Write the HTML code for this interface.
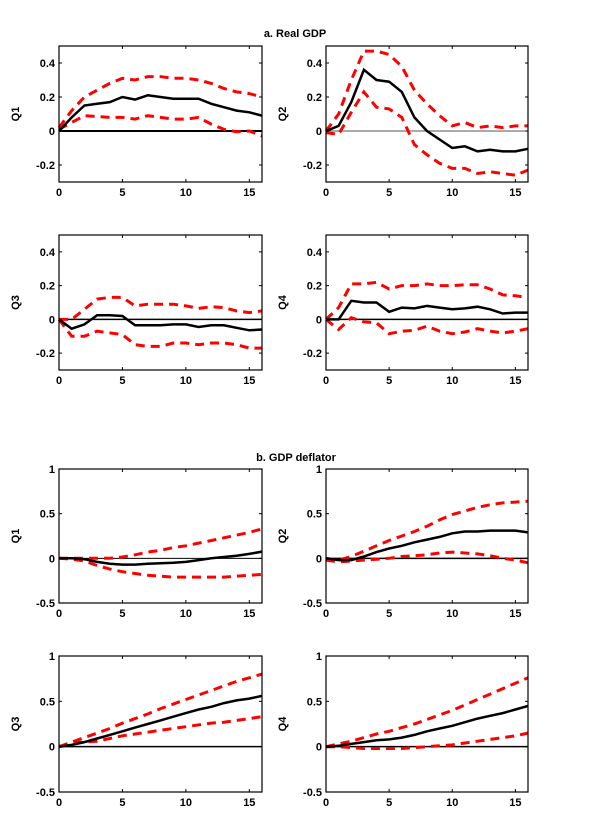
<!DOCTYPE html>
<html><head><meta charset="utf-8">
<style>
html,body{margin:0;padding:0;background:#fff;}
svg text{font-family:"Liberation Sans",Arial,sans-serif;font-weight:bold;font-size:11px;fill:#000;}
</style></head>
<body>
<svg id="chart" width="600" height="834" viewBox="0 0 600 834" xmlns="http://www.w3.org/2000/svg">
<text x="295" y="37" text-anchor="middle">a. Real GDP</text>
<text x="296" y="461" text-anchor="middle">b. GDP deflator</text>
</svg>
<script>
const horizons = [0,1,2,3,4,5,6,7,8,9,10,11,12,13,14,15,16];
const xTicks = [0,5,10,15];
const yTicksA = [0.4,0.2,0,-0.2];
const yTickLabelsA = ["0.4","0.2","0","-0.2"];
const yTicksB = [1,0.5,0,-0.5];
const yTickLabelsB = ["1","0.5","0","-0.5"];
const panelLabels = ["Q1","Q2","Q3","Q4","Q1","Q2","Q3","Q4"];

const gdpQ1Median = [0,0.08,0.15,0.16,0.17,0.20,0.185,0.21,0.20,0.19,0.19,0.19,0.16,0.14,0.12,0.11,0.09];
const gdpQ1Upper  = [0.02,0.12,0.20,0.24,0.28,0.31,0.30,0.32,0.32,0.31,0.31,0.30,0.28,0.25,0.23,0.22,0.20];
const gdpQ1Lower  = [0.01,0.05,0.09,0.085,0.08,0.08,0.07,0.09,0.08,0.07,0.07,0.08,0.04,0.01,-0.005,0,-0.03];
const gdpQ2Median = [0,0.03,0.17,0.36,0.30,0.29,0.23,0.08,0,-0.05,-0.10,-0.09,-0.12,-0.11,-0.12,-0.12,-0.105];
const gdpQ2Upper  = [0,0.10,0.30,0.47,0.47,0.45,0.38,0.24,0.16,0.09,0.03,0.05,0.02,0.03,0.02,0.03,0.03];
const gdpQ2Lower  = [-0.01,-0.02,0.11,0.23,0.14,0.13,0.08,-0.08,-0.14,-0.19,-0.22,-0.22,-0.25,-0.24,-0.25,-0.26,-0.23];
const gdpQ3Median = [0,-0.055,-0.03,0.025,0.025,0.02,-0.035,-0.035,-0.035,-0.03,-0.03,-0.045,-0.035,-0.035,-0.05,-0.065,-0.06];
const gdpQ3Upper  = [0,0,0.06,0.12,0.13,0.13,0.08,0.09,0.09,0.09,0.08,0.065,0.075,0.07,0.05,0.04,0.05];
const gdpQ3Lower  = [0,-0.10,-0.10,-0.07,-0.08,-0.09,-0.15,-0.16,-0.16,-0.14,-0.14,-0.15,-0.14,-0.14,-0.15,-0.17,-0.17];
const gdpQ4Median = [0,0,0.11,0.10,0.10,0.045,0.07,0.065,0.08,0.07,0.06,0.065,0.075,0.06,0.035,0.04,0.04];
const gdpQ4Upper  = [0,0.07,0.21,0.21,0.22,0.18,0.20,0.20,0.21,0.20,0.20,0.205,0.205,0.18,0.145,0.14,0.13];
const gdpQ4Lower  = [0,-0.06,0.01,-0.015,-0.02,-0.085,-0.07,-0.065,-0.04,-0.07,-0.085,-0.075,-0.055,-0.07,-0.08,-0.07,-0.055];

const defQ1Median = [0,0,-0.01,-0.04,-0.06,-0.07,-0.07,-0.06,-0.055,-0.05,-0.04,-0.02,0,0.015,0.03,0.05,0.075];
const defQ1Upper  = [0,0,0,0,0,0.015,0.04,0.07,0.09,0.12,0.14,0.17,0.20,0.23,0.26,0.29,0.33];
const defQ1Lower  = [0,-0.01,-0.03,-0.08,-0.12,-0.15,-0.17,-0.19,-0.20,-0.21,-0.21,-0.21,-0.21,-0.21,-0.20,-0.19,-0.18];
const defQ2Median = [0,-0.02,-0.02,0.02,0.07,0.11,0.14,0.18,0.21,0.24,0.28,0.30,0.30,0.31,0.31,0.31,0.29];
const defQ2Upper  = [0,-0.02,0.02,0.08,0.14,0.20,0.25,0.30,0.36,0.43,0.49,0.53,0.57,0.60,0.62,0.63,0.64];
const defQ2Lower  = [-0.02,-0.04,-0.03,-0.02,-0.01,0,0.02,0.03,0.04,0.06,0.07,0.06,0.05,0.03,0,-0.02,-0.05];
const defQ3Median = [0,0.02,0.05,0.09,0.13,0.17,0.21,0.25,0.29,0.33,0.37,0.41,0.44,0.48,0.51,0.53,0.56];
const defQ3Upper  = [0,0.05,0.10,0.15,0.20,0.26,0.31,0.36,0.42,0.47,0.52,0.57,0.62,0.67,0.72,0.76,0.80];
const defQ3Lower  = [0,0.04,0.05,0.06,0.09,0.12,0.14,0.16,0.18,0.20,0.22,0.24,0.26,0.27,0.29,0.31,0.33];
const defQ4Median = [0,0.01,0.03,0.05,0.07,0.08,0.10,0.13,0.17,0.20,0.23,0.27,0.31,0.34,0.37,0.41,0.45];
const defQ4Upper  = [0,0.03,0.06,0.10,0.14,0.17,0.21,0.25,0.30,0.35,0.40,0.46,0.52,0.58,0.64,0.70,0.76];
const defQ4Lower  = [0,0,-0.01,-0.02,-0.02,-0.02,-0.02,-0.01,0,0.01,0.02,0.04,0.06,0.08,0.10,0.12,0.15];

const NS = "http://www.w3.org/2000/svg";
const svg = document.getElementById("chart");
function mk(tag, attrs, parent){
  const e = document.createElementNS(NS, tag);
  for (const k in attrs) e.setAttribute(k, attrs[k]);
  (parent||svg).appendChild(e);
  return e;
}
const cols = [[59,262],[326,528]];
const rows = [[46,182],[235,370],[469,603],[656,792]];
const panels = [
  {c:0,r:0,sec:"a",med:gdpQ1Median,up:gdpQ1Upper,lo:gdpQ1Lower,zw:2,zc:"#000"},
  {c:1,r:0,sec:"a",med:gdpQ2Median,up:gdpQ2Upper,lo:gdpQ2Lower,zw:1,zc:"#555"},
  {c:0,r:1,sec:"a",med:gdpQ3Median,up:gdpQ3Upper,lo:gdpQ3Lower,zw:1.5,zc:"#000"},
  {c:1,r:1,sec:"a",med:gdpQ4Median,up:gdpQ4Upper,lo:gdpQ4Lower,zw:1.5,zc:"#000"},
  {c:0,r:2,sec:"b",med:defQ1Median,up:defQ1Upper,lo:defQ1Lower,zw:1,zc:"#000"},
  {c:1,r:2,sec:"b",med:defQ2Median,up:defQ2Upper,lo:defQ2Lower,zw:1.5,zc:"#000"},
  {c:0,r:3,sec:"b",med:defQ3Median,up:defQ3Upper,lo:defQ3Lower,zw:1.5,zc:"#000"},
  {c:1,r:3,sec:"b",med:defQ4Median,up:defQ4Upper,lo:defQ4Lower,zw:1.5,zc:"#000"}
];
panels.forEach((p,i)=>{
  const [x0,x1] = cols[p.c], [y0,y1] = rows[p.r];
  const yMin = p.sec==="a" ? -0.3 : -0.5, yMax = p.sec==="a" ? 0.5 : 1;
  const xs = v => x0 + (v-0)/16*(x1-x0);
  const ys = v => y1 - (v-yMin)/(yMax-yMin)*(y1-y0);
  const g = mk("g",{});
  
  
  // zero line
  const z = mk("line",{x1:x0,x2:x1,y1:ys(0),y2:ys(0),stroke:p.zc,"stroke-width":p.zw},g);
  
  
  const path = arr => arr.map((v,k)=>(k?"L":"M")+xs(horizons[k]).toFixed(1)+","+ys(v).toFixed(1)).join("");
  const u = mk("path",{d:path(p.up),fill:"none",stroke:"#ff0000","stroke-width":3,"stroke-dasharray":"9,6"},g);
  
  
  const l = mk("path",{d:path(p.lo),fill:"none",stroke:"#ff0000","stroke-width":3,"stroke-dasharray":"9,6"},g);
  
  
  const m = mk("path",{d:path(p.med),fill:"none",stroke:"#000","stroke-width":2.5},g);
  
  
  // frame
  const f = mk("rect",{x:x0,y:y0,width:x1-x0,height:y1-y0,fill:"none",stroke:"#000","stroke-width":1.2},g);
  
  
  xTicks.forEach(t=>{
    mk("line",{x1:xs(t),x2:xs(t),y1:y1,y2:y1-3,stroke:"#000"},g);
    mk("line",{x1:xs(t),x2:xs(t),y1:y0,y2:y0+3,stroke:"#000"},g);
    const tx = mk("text",{x:xs(t),y:y1+14,"text-anchor":"middle"},g);
    tx.textContent = t;
    
    
  });
  const yt = p.sec==="a" ? yTicksA : yTicksB;
  const yl = p.sec==="a" ? yTickLabelsA : yTickLabelsB;
  yt.forEach((t,k)=>{
    mk("line",{x1:x0,x2:x0+3,y1:ys(t),y2:ys(t),stroke:"#000"},g);
    mk("line",{x1:x1,x2:x1-3,y1:ys(t),y2:ys(t),stroke:"#000"},g);
    const tx = mk("text",{x:x0-4,y:ys(t)+4,"text-anchor":"end"},g);
    tx.textContent = yl[k];
    
    
  });
  const lx = p.c===0 ? 19 : 286, ly = (y0+y1)/2;
  const lab = mk("text",{x:lx,y:ly,"text-anchor":"middle",transform:"rotate(-90 "+lx+" "+ly+")"},g);
  lab.textContent = panelLabels[i];
  
  
});
</script>
</body></html>
